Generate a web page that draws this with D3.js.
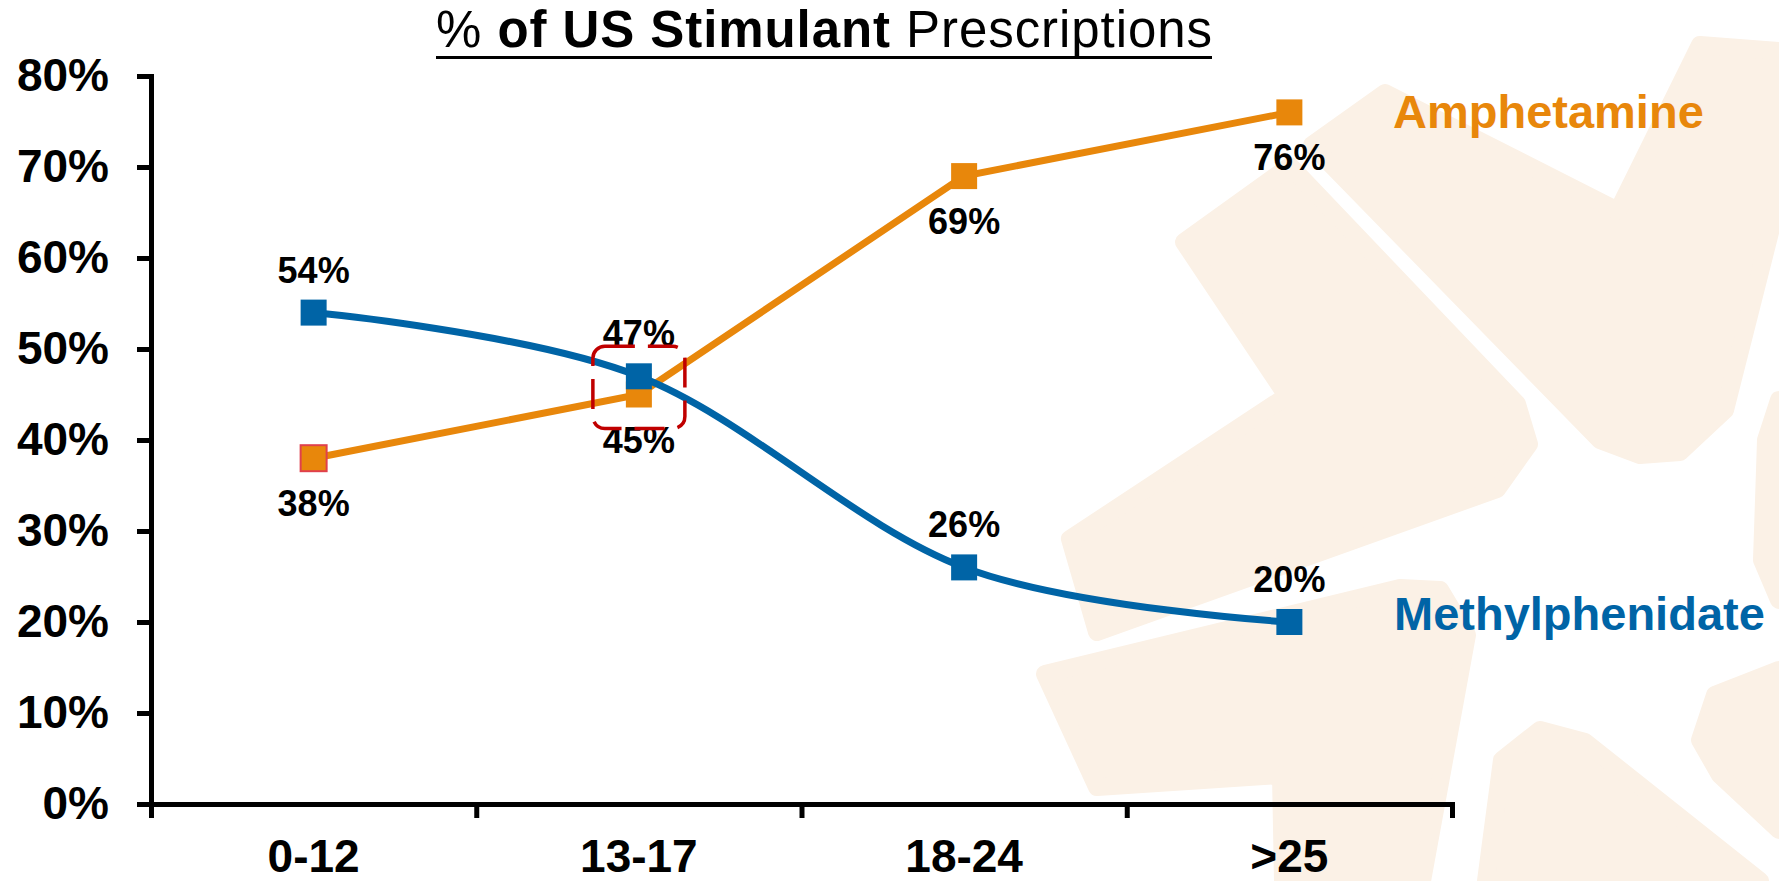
<!DOCTYPE html>
<html>
<head>
<meta charset="utf-8">
<script src="https://cdn.jsdelivr.net/npm/d3@7"></script>
<style>
  html, body { margin: 0; padding: 0; background: #fff; }
  svg { display: block; font-family: "Liberation Sans", Arial, sans-serif; }
</style>
</head>
<body>
<div class="container"></div>
<script>
// chart data
var ageGroups = ["0-12", "13-17", "18-24", ">25"];
var amphetamine = [38, 45, 69, 76];
var methylphenidate = [54, 47, 26, 20];
var yTicks = [0, 10, 20, 30, 40, 50, 60, 70, 80];

// faint logo shapes behind the chart
var watermark = [
  [[1184,242],[1290,166],[1517,404],[1529,444],[1497,489],[1097,632],[1070,539],[1287,396]],
  [[1312,145],[1385,93],[1618,211],[1700,45],[1779,51],[1779,197],[1725,410],[1680,452],[1640,455],[1600,440]],
  [[1045,674],[1097,787],[1281,775],[1283,881],[1422,881],[1467,635],[1440,590],[1400,588]],
  [[1486,881],[1502,760],[1540,730],[1585,742],[1760,881]],
  [[1779,400],[1766,440],[1762,560],[1779,600]],
  [[1779,670],[1715,695],[1700,740],[1720,775],[1779,830]]
];

(function(){

  var W = 1779, H = 881;
  var orange = "#E8870B", blue = "#0064A6";

  var svg = d3.select(".container").append("svg")
      .attr("width", W)
      .attr("height", H);

  svg.append("g").selectAll("path")
    .data(watermark)
    .enter().append("path")
    .attr("d", d3.line().curve(d3.curveLinearClosed))
    .attr("fill", "#FBF1E6")
    .attr("stroke", "#FBF1E6")
    .attr("stroke-width", 18)
    .attr("stroke-linejoin", "round");

  var x = d3.scaleBand().domain(ageGroups).range([151, 1452]);
  var xEdge = d3.scaleLinear().domain([0, ageGroups.length]).range([151, 1452]);
  var y = d3.scaleLinear().domain([0, 80]).range([804, 76]);
  var cx = function(d, i) { return x(ageGroups[i]) + x.bandwidth() / 2; };

  // title
  var title = svg.append("text")
      .attr("x", 824)
      .attr("y", 47)
      .attr("text-anchor", "middle")
      .attr("font-size", 51)
      .attr("textLength", 776)
      .attr("lengthAdjust", "spacing");
  title.append("tspan").text("% ");
  title.append("tspan").attr("font-weight", "bold").text("of US Stimulant");
  title.append("tspan").text(" Prescriptions");
  var tb = title.node().getBBox();
  svg.append("rect")
    .attr("x", tb.x).attr("y", 56)
    .attr("width", tb.width).attr("height", 3)
    .attr("fill", "#000");

  // y axis
  var yAxis = svg.append("g")
      .attr("transform", "translate(151,0)")
      .call(d3.axisLeft(y)
        .tickValues(yTicks)
        .tickFormat(function(d) { return d + "%"; })
        .tickSize(14)
        .tickPadding(28));

  // x axis: edge ticks + centred labels
  var xAxis = svg.append("g")
      .attr("transform", "translate(0,804)")
      .call(d3.axisBottom(xEdge).tickValues(d3.range(ageGroups.length + 1)).tickFormat("").tickSize(14));
  var xLab = svg.append("g")
      .attr("transform", "translate(0,804)")
      .call(d3.axisBottom(x).tickSize(0).tickPadding(35));
  xLab.select(".domain").remove();

  [yAxis, xAxis].forEach(function(g) {
    g.selectAll("path, line").attr("stroke", "#000").attr("stroke-width", 5);
  });
  yAxis.selectAll("text").attr("font-size", 46).attr("font-weight", "bold")
    .attr("fill", "#000").attr("font-family", "Liberation Sans, Arial, sans-serif");
  xLab.selectAll("text").attr("font-size", 46).attr("font-weight", "bold")
    .attr("fill", "#000").attr("font-family", "Liberation Sans, Arial, sans-serif");

  // lines
  var ampLine = d3.line()
      .x(cx)
      .y(function(d) { return y(d); });
  var metLine = d3.line()
      .x(cx)
      .y(function(d) { return y(d); })
      .curve(d3.curveCardinal);

  svg.append("path")
    .attr("d", ampLine(amphetamine))
    .attr("fill", "none").attr("stroke", orange).attr("stroke-width", 7);
  svg.selectAll(".amp-pt")
    .data(amphetamine)
    .enter().append("rect")
    .attr("class", "amp-pt")
    .attr("x", function(d, i) { return cx(d, i) - 13; })
    .attr("y", function(d) { return y(d) - 13; })
    .attr("width", 26).attr("height", 26)
    .attr("fill", orange)
    .attr("stroke", function(d, i) { return i === 0 ? "#E0404C" : "none"; })
    .attr("stroke-width", 2);

  svg.append("path")
    .attr("d", metLine(methylphenidate))
    .attr("fill", "none").attr("stroke", blue).attr("stroke-width", 7);
  svg.selectAll(".met-pt")
    .data(methylphenidate)
    .enter().append("rect")
    .attr("class", "met-pt")
    .attr("x", function(d, i) { return cx(d, i) - 13; })
    .attr("y", function(d) { return y(d) - 13; })
    .attr("width", 26).attr("height", 26)
    .attr("fill", blue);

  // value labels
  svg.selectAll(".amp-lab")
    .data(amphetamine)
    .enter().append("text")
    .attr("x", cx)
    .attr("y", function(d) { return y(d) + 58; })
    .attr("text-anchor", "middle")
    .attr("font-size", 36).attr("font-weight", "bold")
    .text(function(d) { return d + "%"; });
  svg.selectAll(".met-lab")
    .data(methylphenidate)
    .enter().append("text")
    .attr("x", cx)
    .attr("y", function(d) { return y(d) - 30; })
    .attr("text-anchor", "middle")
    .attr("font-size", 36).attr("font-weight", "bold")
    .text(function(d) { return d + "%"; });

  // series names
  svg.append("text")
    .attr("x", 1393).attr("y", y(amphetamine[3]) + 16)
    .attr("font-size", 47).attr("font-weight", "bold").attr("fill", orange)
    .text("Amphetamine");
  svg.append("text")
    .attr("x", 1394).attr("y", y(methylphenidate[3]) + 8)
    .attr("font-size", 47).attr("font-weight", "bold").attr("fill", blue)
    .text("Methylphenidate");

  // dashed highlight around the crossover
  var hx = x("13-17") + x.bandwidth() / 2;
  svg.append("rect")
    .attr("x", hx - 46)
    .attr("y", y(47) - 30)
    .attr("width", 92)
    .attr("height", y(45) - y(47) + 64)
    .attr("rx", 12)
    .attr("fill", "none")
    .attr("stroke", "#C00000")
    .attr("stroke-width", 3.5)
    .attr("stroke-dasharray", "30,13");

})();
</script>
</body>
</html>
